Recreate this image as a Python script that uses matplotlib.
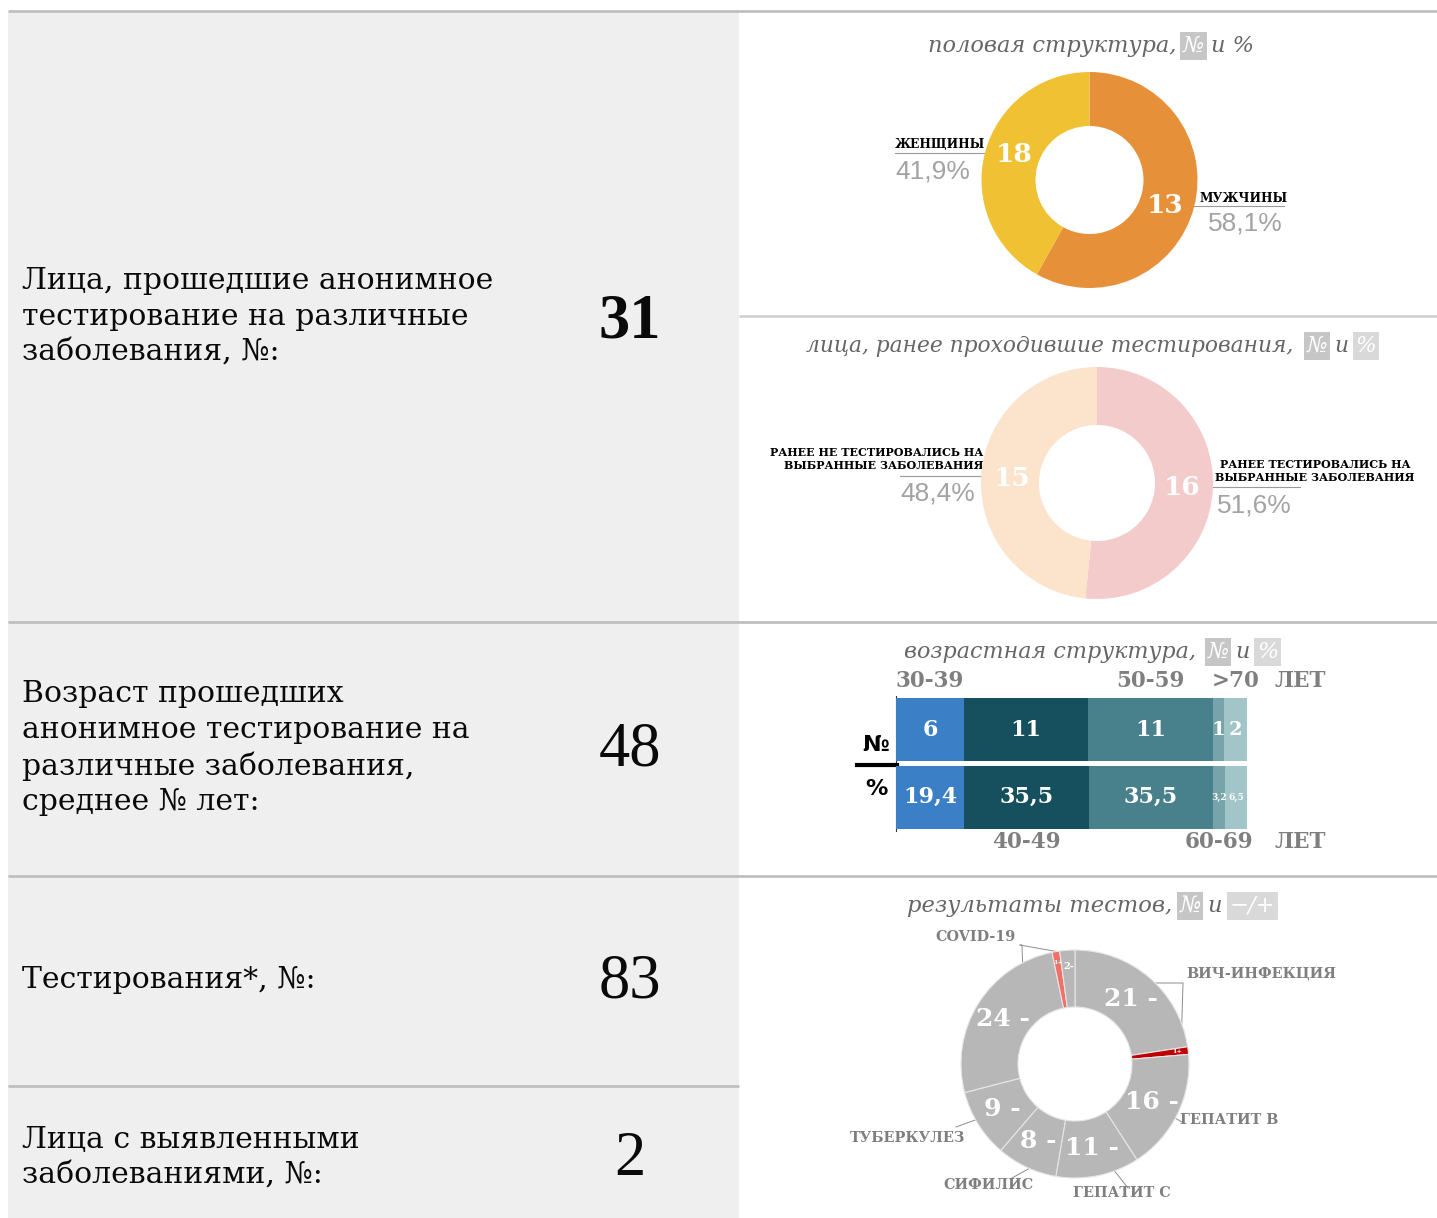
import matplotlib
matplotlib.use("Agg")
import matplotlib.pyplot as plt
from matplotlib.patches import Rectangle
import numpy as np

# ---------------- data ----------------
summary_labels = [
    ["Лица, прошедшие анонимное", "тестирование на различные", "заболевания, №:"],
    ["Возраст прошедших", "анонимное тестирование на", "различные заболевания,", "среднее № лет:"],
    ["Тестирования*, №:"],
    ["Лица с выявленными", "заболеваниями, №:"],
]
summary_values = ["31", "48", "83", "2"]

gender_labels = ["МУЖЧИНЫ", "ЖЕНЩИНЫ"]
gender_pct = [58.1, 41.9]
gender_counts_shown = ["13", "18"]
gender_pct_text = ["58,1%", "41,9%"]

prior_labels = ["РАНЕЕ ТЕСТИРОВАЛИСЬ НА\nВЫБРАННЫЕ ЗАБОЛЕВАНИЯ",
                "РАНЕЕ НЕ ТЕСТИРОВАЛИСЬ НА\nВЫБРАННЫЕ ЗАБОЛЕВАНИЯ"]
prior_pct = [51.6, 48.4]
prior_counts = ["16", "15"]
prior_pct_text = ["51,6%", "48,4%"]

age_groups = ["30-39", "40-49", "50-59", "60-69", ">70"]
age_counts = [6, 11, 11, 1, 2]
age_pct = [19.4, 35.5, 35.5, 3.2, 6.5]
age_count_text = ["6", "11", "11", "1", "2"]
age_pct_text = ["19,4", "35,5", "35,5", "3,2", "6,5"]

test_values = [21, 1, 16, 11, 8, 9, 24, 1, 2]
test_signs = ["-", "+", "-", "-", "-", "-", "-", "+", "-"]
test_categories = ["ВИЧ-ИНФЕКЦИЯ", "ГЕПАТИТ B", "ГЕПАТИТ C", "СИФИЛИС", "ТУБЕРКУЛЕЗ", "COVID-19"]

# ---------------- styles ----------------
W, H = 1437, 1218
SERIF = ["DejaVu Serif", "DejaVu Sans"]
SANS = ["Liberation Sans", "DejaVu Sans"]
PANEL = "#efefef"
LINE = "#bdbdbd"
TITLE_C = "#666666"
LABEL_GRAY = "#7f7f7f"
PCT_C = "#a3a3a3"

fig = plt.figure(figsize=(W / 100, H / 100), dpi=100)
fig.patch.set_facecolor("white")
bg = fig.add_axes([0, 0, 1, 1])
bg.set_xlim(0, W)
bg.set_ylim(H, 0)
bg.axis("off")

# left panel & separators
bg.add_patch(Rectangle((8, 12), 731, H - 12, fc=PANEL, ec="none", zorder=0))
lw = 1.9
bg.plot([8, W], [11, 11], color=LINE, lw=lw, solid_capstyle="butt")
bg.plot([739, W], [316, 316], color="#d0d0d0", lw=lw, solid_capstyle="butt")
bg.plot([8, W], [622, 622], color=LINE, lw=lw, solid_capstyle="butt")
bg.plot([8, W], [876, 876], color=LINE, lw=lw, solid_capstyle="butt")
bg.plot([8, 739], [1086, 1086], color=LINE, lw=lw, solid_capstyle="butt")

# left texts
line_y = [[281, 317, 352], [694, 730, 766, 802], [980], [1140, 1175]]
num_y = [322, 750, 982, 1160]
for lines, ys, val, ny, bold in zip(summary_labels, line_y, summary_values, num_y,
                                     [True, False, False, False]):
    for s, y in zip(lines, ys):
        bg.text(22, y, s, fontsize=21.5, family=SERIF, color="#0a0a0a", va="center", ha="left")
    bg.text(630, ny, val, fontsize=45, family=["Liberation Serif"], color="#0a0a0a",
            va="center", ha="center", fontweight="bold" if bold else "normal")

renderer = fig.canvas.get_renderer()


def title(cy, pieces, cx=1091, fs=16.3):
    texts, gaps = [], []
    for s, box, gap in pieces:
        kw = dict(fontsize=fs, family=SERIF, style="italic", va="center", ha="left")
        if box:
            kw["color"] = "white"
            kw["bbox"] = dict(boxstyle="square,pad=0.12", fc=box, ec="none")
        else:
            kw["color"] = TITLE_C
        texts.append(bg.text(0, cy, s, **kw))
        gaps.append(gap)
    widths = [t.get_window_extent(renderer).width for t in texts]
    total = sum(widths) + sum(gaps)
    x = cx - total / 2
    for t, w, g in zip(texts, widths, gaps):
        t.set_x(x)
        x += w + g


BOX1 = "#c6c6c6"
BOX2 = "#d9d9d9"
title(46, [("половая структура,", None, 7), ("№", BOX1, 7), ("и %", None, 0)], fs=16.2)
title(346, [("лица, ранее проходившие тестирования,", None, 14), ("№", BOX1, 7), ("и", None, 7), ("%", BOX2, 0)], fs=15.7)
title(652, [("возрастная структура,", None, 12), ("№", BOX1, 7), ("и", None, 7), ("%", BOX2, 0)], fs=16)
title(906, [("результаты тестов,", None, 7), ("№", BOX1, 7), ("и", None, 7), ("−/+", BOX2, 0)], fs=16.3)


def pie_axes(cx, cy, R):
    a = fig.add_axes([(cx - R) / W, 1 - (cy + R) / H, 2 * R / W, 2 * R / H])
    a.axis("off")
    return a


def mid_angles(vals):
    vals = np.asarray(vals, float)
    cum = np.cumsum(vals) - vals / 2
    return np.deg2rad(90 - 360 * cum / vals.sum())


# ---------- donut 1: gender ----------
a1 = pie_axes(1089.5, 180, 108)
a1.pie(gender_pct, colors=["#e6913a", "#f0c233"], startangle=90, counterclock=False,
       radius=1, wedgeprops=dict(width=0.5, edgecolor="none"))
a1.set_xlim(-1, 1); a1.set_ylim(-1, 1)
for ang, s in zip(mid_angles(gender_pct), gender_counts_shown):
    a1.text(0.72 * np.cos(ang), 0.95 * np.sin(ang), s, color="white", fontsize=19,
            fontweight="bold", family=SERIF, ha="center", va="center")
# labels
bg.text(985, 145, gender_labels[1], fontsize=8.7, fontweight="bold", family=SERIF,
        color="black", ha="right", va="center")
bg.plot([895, 990], [153, 153], color="#9a9a9a", lw=0.8)
bg.text(895, 172, gender_pct_text[1], fontsize=19, family=SANS, color=PCT_C, ha="left", va="center")
bg.text(1200, 198, gender_labels[0], fontsize=8.7, fontweight="bold", family=SERIF,
        color="black", ha="left", va="center")
bg.plot([1190, 1284], [206, 206], color="#9a9a9a", lw=0.8)
bg.text(1283, 224, gender_pct_text[0], fontsize=19, family=SANS, color=PCT_C, ha="right", va="center")

# ---------- donut 2: tested before ----------
a2 = pie_axes(1097, 483, 116)
a2.pie(prior_pct, colors=["#f4cbcb", "#fbe3cc"], startangle=90, counterclock=False,
       radius=1, wedgeprops=dict(width=0.5, edgecolor="none"))
a2.set_xlim(-1, 1); a2.set_ylim(-1, 1)
for ang, s in zip(mid_angles(prior_pct), prior_counts):
    a2.text(0.73 * np.cos(ang), 0.75 * np.sin(ang), s, color="white", fontsize=19,
            fontweight="bold", family=SERIF, ha="center", va="center")
bg.text(983, 459, prior_labels[1], fontsize=8.0, fontweight="bold", family=SERIF,
        color="black", ha="right", va="center", linespacing=1.3, multialignment="right")
bg.plot([900, 990], [476, 476], color="#9a9a9a", lw=0.8)
bg.text(975, 494, prior_pct_text[1], fontsize=19, family=SANS, color=PCT_C, ha="right", va="center")
bg.text(1315, 471, prior_labels[0], fontsize=8.0, fontweight="bold", family=SERIF,
        color="black", ha="center", va="center", linespacing=1.3, multialignment="center")
bg.plot([1210, 1300], [487, 487], color="#9a9a9a", lw=0.8)
bg.text(1217, 505, prior_pct_text[0], fontsize=19, family=SANS, color=PCT_C, ha="left", va="center")

# ---------- age stacked bar ----------
age_colors = ["#3b80c6", "#164f5d", "#48808c", "#77a3ab", "#a2c5c9"]
ab = fig.add_axes([896 / W, 1 - 831 / H, 351 / W, 135 / H])
ab.axis("off")
total = sum(age_counts)
rows = [list(age_counts), [p * total / 100 for p in age_pct]]
row_text = [age_count_text, age_pct_text]
for r, (vals, txts) in enumerate(zip(rows, row_text)):
    left = 0
    for i, (v, t) in enumerate(zip(vals, txts)):
        ab.barh(r, v, left=left, height=0.94, color=age_colors[i], edgecolor="none")
        if r == 1 and v < 3:
            fs = 6.5
        elif v < 3:
            fs = 14
        else:
            fs = 16
        ab.text(left + v / 2, r, t, color="white", ha="center", va="center",
                fontsize=fs, fontweight="bold", family=SERIF)
        left += v
ab.set_xlim(0, total)
ab.set_ylim(1.5, -0.5)
bg.plot([896, 896], [696, 831], color="#333333", lw=0.8)
bg.plot([857, 897], [765, 765], color="black", lw=3)
bg.text(876, 745, "№", fontsize=16, fontweight="bold", family=["DejaVu Sans"], color="black",
        ha="center", va="center")
bg.text(876, 789, "%", fontsize=16, fontweight="bold", family=["DejaVu Sans"], color="black",
        ha="center", va="center")

cum = np.cumsum(age_counts) - np.array(age_counts) / 2
for i, g in enumerate(age_groups):
    xpix = 896 + cum[i] / total * 351
    y = 681 if i % 2 == 0 else 842
    bg.text(xpix, y, g, fontsize=15.5, fontweight="bold", family=SERIF, color=LABEL_GRAY,
            ha="center", va="center")
bg.text(1300, 681, "ЛЕТ", fontsize=15.5, fontweight="bold", family=SERIF, color=LABEL_GRAY,
        ha="center", va="center")
bg.text(1300, 842, "ЛЕТ", fontsize=15.5, fontweight="bold", family=SERIF, color=LABEL_GRAY,
        ha="center", va="center")

# ---------- donut 3: test results ----------
GRAY = "#b7b7b7"
tcolors = []
for i, s in enumerate(test_signs):
    if s == "+":
        tcolors.append("#c00000" if i < 4 else "#f07068")
    else:
        tcolors.append(GRAY)
a3 = pie_axes(1075, 1064, 114)
a3.pie(test_values, colors=tcolors, startangle=90, counterclock=False, radius=1,
       wedgeprops=dict(width=0.5, edgecolor="#e6e6e6", linewidth=0.8))
a3.set_xlim(-1, 1); a3.set_ylim(-1, 1)
for ang, v, s in zip(mid_angles(test_values), test_values, test_signs):
    if v >= 5:
        a3.text(0.75 * np.cos(ang), 0.75 * np.sin(ang), f"{v} {s}", color="white", fontsize=18,
                fontweight="bold", family=SERIF, ha="center", va="center")
    else:
        rr = 0.9 if s == "+" else 0.86
        a3.text(rr * np.cos(ang), rr * np.sin(ang), f"{v}{s}", color="white",
                fontsize=4.5 if s == "+" else 7, fontweight="bold", family=SERIF,
                ha="center", va="center")

cat_pos = [(1261, 973), (1229, 1120), (1122, 1193), (988, 1185), (908, 1138), (976, 937)]
for name, (x, y) in zip(test_categories, cat_pos):
    bg.text(x, y, name, fontsize=10.4, fontweight="bold", family=SERIF, color=LABEL_GRAY,
            ha="center", va="center")
lc = "#8c8c8c"
llw = 0.7
bg.plot([1145, 1183, 1181], [983, 983, 1050], color=lc, lw=llw)            # ВИЧ
bg.plot([1173, 1182], [1117, 1122], color=lc, lw=llw)                      # гепатит B
bg.plot([1128, 1109], [1188, 1164], color=lc, lw=llw)                      # гепатит C
bg.plot([1012, 1039], [1178, 1163], color=lc, lw=llw)                      # сифилис
bg.plot([956, 978], [1127, 1119], color=lc, lw=llw)                        # туберкулез
bg.plot([1020, 1022, 1023], [945, 945, 976], color=lc, lw=llw)             # covid
bg.plot([1020, 1059], [945, 952], color=lc, lw=llw)

fig.savefig("out.png", dpi=100, facecolor="white")
